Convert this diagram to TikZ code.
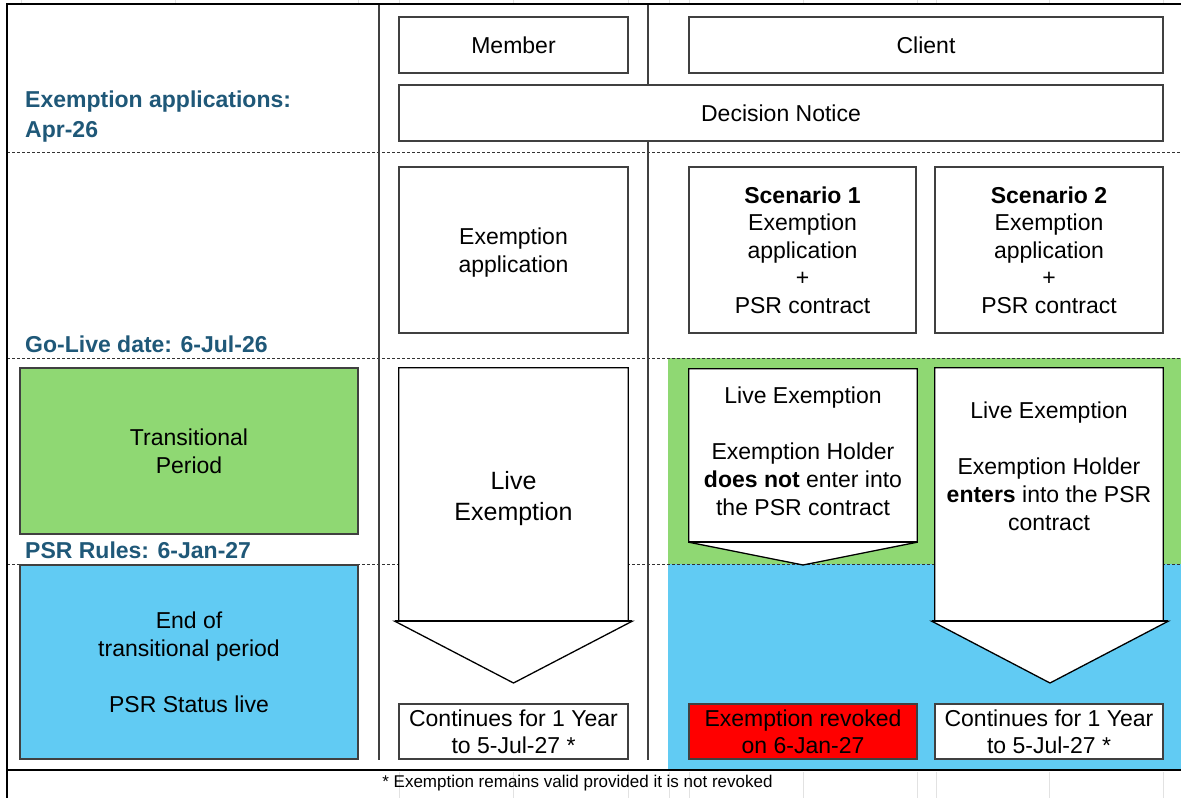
\documentclass[tikz,border=0pt]{standalone}
\usepackage{fontspec}
\setmainfont{Liberation Sans}
\definecolor{grn}{RGB}{143,216,115}
\definecolor{blu}{RGB}{97,203,243}
\definecolor{hdr}{RGB}{31,88,120}
\definecolor{bord}{RGB}{64,64,64}
\definecolor{grid}{RGB}{226,226,226}
\newcommand{\topst}{\rule{0pt}{22pt}}
\newcommand{\topbig}{\rule{0pt}{23.5pt}}
\tikzset{
  every node/.style={font=\fontsize{23}{27.5}\selectfont, text=black},
  balanced/.style={execute at end node={\rule[-5.5pt]{0pt}{5.5pt}}},
  cell/.style={draw=bord, line width=1.2pt, fill=white, inner sep=0pt, align=center, balanced},
  hdrtext/.style={font=\fontsize{23}{28}\bfseries\selectfont, text=hdr, inner sep=0pt, anchor=base west},
  body/.style={draw=none, inner sep=0pt},
  arrline/.style={draw=black, line width=1.3pt, fill=white, line join=miter},
  arrbase/.style={draw=black, line width=2pt},
  dashline/.style={draw=black!80, line width=0.8pt, dash pattern=on 3pt off 2pt},
  vline/.style={draw=black!75, line width=1.2pt},
  frame/.style={draw=black, line width=2.4pt},
  gridline/.style={draw=grid, line width=0.8pt},
  txt/.style={align=center, inner sep=0pt, balanced}
}
\begin{document}
\begin{tikzpicture}[x=1pt,y=-1pt]
\useasboundingbox (0,0) rectangle (1181,798);
\fill[white] (0,0) rectangle (1181,798);
% faint spreadsheet gridlines in the margins
\foreach \gx in {21,175,358,399,513,628,669,689,803,917,936,1049,1163}{
  \draw[gridline] (\gx,0) -- (\gx,3);
}
\foreach \gx in {399,513,628,669,689,803,917,936,1049,1163}{
  \draw[gridline] (\gx,772) -- (\gx,798);
}
% coloured period bands on the client side
\fill[grn] (668,358) rectangle (1181,564);
\fill[blu] (668,564) rectangle (1181,769);
% dashed date lines
\draw[dashline] (7,152) -- (1181,152);
\draw[dashline] (7,358) -- (1181,358);
\draw[dashline] (7,564) -- (1181,564);
% column separators
\draw[vline] (379,4) -- (379,760);
\draw[vline] (648,4) -- (648,760);
% outer frame
\draw[frame] (1181,4) -- (7,4) -- (7,798);
\draw[frame] (7,770) -- (1181,770);

% left labels
\node[hdrtext] (hdA) at (25,107) {Exemption applications:};
\node[hdrtext] (hdB) at (25,137) {Apr-26};
\node[hdrtext] (hdC) at (25,352) {Go-Live date: 6-Jul-26};
\node[hdrtext] (hdD) at (25,558) {PSR Rules: 6-Jan-27};

% header boxes
\node[cell, minimum width=229pt, minimum height=56pt] (member) at (513.5,45) {\topst Member};
\node[cell, minimum width=474pt, minimum height=56pt] (client) at (926,45) {\topst Client};
\node[cell, minimum width=764pt, minimum height=56pt] (decision) at (781,113) {\topst Decision Notice};

% application boxes
\node[cell, minimum width=229pt, minimum height=166pt] (exapp) at (513.5,250) {\topst Exemption\\application};
\node[cell, minimum width=227pt, minimum height=166pt] (sc1) at (802.5,250) {\topst\textbf{Scenario 1}\\Exemption\\application\\+\\PSR contract};
\node[cell, minimum width=228pt, minimum height=166pt] (sc2) at (1049,250) {\topst\textbf{Scenario 2}\\Exemption\\application\\+\\PSR contract};

% left period boxes
\node[cell, fill=grn, minimum width=338pt, minimum height=166pt] (trans) at (189,451) {\topst Transitional\\Period};
\node[cell, fill=blu, minimum width=338pt, minimum height=194pt, font=\fontsize{23}{28}\selectfont] (endtp) at (189,662) {\topst End of\\transitional period\\[28pt]PSR Status live};

% arrow 1 (member)
\node[body, minimum width=229pt, minimum height=253pt] (a1) at (513.5,494.5) {};
\coordinate (a1tip) at (513.5,683);
\draw[arrline] (a1.south west) -- (a1.north west) -- (a1.north east) -- (a1.south east)
  -- ([xshift=4pt]a1.south east) -- (a1tip) -- ([xshift=-4pt]a1.south west) -- cycle;
\draw[arrbase] ([xshift=-4pt]a1.south west) -- ([xshift=4pt]a1.south east);
\node[txt, font=\fontsize{25}{31}\selectfont] (a1txt) at (513.5,495.5) {\topbig Live\\Exemption};

% arrow 2 (scenario 1)
\node[body, minimum width=228pt, minimum height=173pt] (a2) at (803,455.5) {};
\coordinate (a2tip) at (803,565);
\draw[arrline] (a2.south west) -- (a2.north west) -- (a2.north east) -- (a2.south east)
  -- (a2tip) -- cycle;
\draw[arrbase] (a2.south west) -- (a2.south east);
\node[txt, font=\fontsize{23}{28}\selectfont] (a2txt) at (803,451.5) {\topst Live Exemption\\[28pt]Exemption Holder\\\textbf{does not} enter into\\the PSR contract};

% arrow 3 (scenario 2)
\node[body, minimum width=228pt, minimum height=253pt] (a3) at (1049,494.5) {};
\coordinate (a3tip) at (1050,683);
\draw[arrline] (a3.south west) -- (a3.north west) -- (a3.north east) -- (a3.south east)
  -- ([xshift=5pt]a3.south east) -- (a3tip) -- ([xshift=-3pt]a3.south west) -- cycle;
\draw[arrbase] ([xshift=-3pt]a3.south west) -- ([xshift=5pt]a3.south east);
\node[txt, font=\fontsize{23}{28}\selectfont] (a3txt) at (1049,466.5) {\topst Live Exemption\\[28pt]Exemption Holder\\\textbf{enters} into the PSR\\contract};

% outcome boxes
\node[cell, minimum width=229pt, minimum height=55pt, font=\fontsize{23}{27}\selectfont] (cont1) at (513.5,731.5) {\topst Continues for 1 Year\\to 5-Jul-27 *};
\node[cell, fill=red, minimum width=228pt, minimum height=55pt, font=\fontsize{23}{27}\selectfont] (revoked) at (803,731.5) {\topst Exemption revoked\\on 6-Jan-27};
\node[cell, minimum width=228pt, minimum height=55pt, font=\fontsize{23}{27}\selectfont] (cont2) at (1049,731.5) {\topst Continues for 1 Year\\to 5-Jul-27 *};

% footnote
\node[inner sep=0pt, anchor=base, font=\fontsize{17}{20}\selectfont] (foot) at (577.5,787) {* Exemption remains valid provided it is not revoked};
\end{tikzpicture}
\end{document}
